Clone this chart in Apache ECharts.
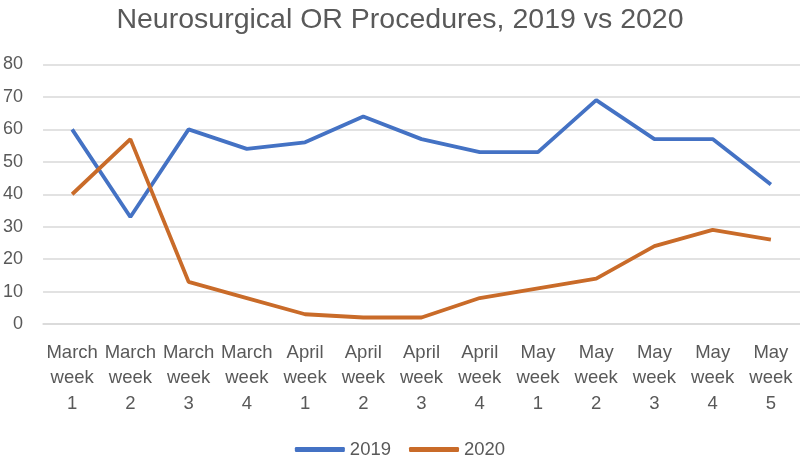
<!DOCTYPE html>
<html><head><meta charset="utf-8">
<script src="https://cdn.jsdelivr.net/npm/echarts@6/dist/echarts.min.js"></script>
<style>html,body{margin:0;padding:0;background:#fff}#c{width:800px;height:463px}</style>
</head><body><div id="c"></div>
<script>
const categories = ["March\nweek\n1","March\nweek\n2","March\nweek\n3","March\nweek\n4","April\nweek\n1","April\nweek\n2","April\nweek\n3","April\nweek\n4","May\nweek\n1","May\nweek\n2","May\nweek\n3","May\nweek\n4","May\nweek\n5"];
const values2019 = [60,33,60,54,56,64,57,53,53,69,57,57,43];
const values2020 = [40,57,13,8,3,2,2,8,11,14,24,29,26];
const seriesNames = ["2019","2020"];
const yTicks = {min:0, max:80, interval:10};

const font = "'Liberation Sans', Arial, sans-serif";
const txt = '#595959';
const chart = echarts.init(document.getElementById('c'), null, {renderer:'canvas'});
chart.setOption({
  animation:false,
  title:{text:'Neurosurgical OR Procedures, 2019 vs 2020', left:'center', top:1,
    textStyle:{fontFamily:font, fontSize:28.5, fontWeight:'normal', color:txt}},
  legend:{top:435, left:'center', itemWidth:50, itemHeight:5, itemGap:18,
    icon:'roundRect',
    textStyle:{fontFamily:font, fontSize:18.5, color:txt},
    data:seriesNames},
  grid:{left:41, top:64.5, width:764, bottom:139},
  xAxis:{type:'category', data:categories, boundaryGap:true,
    axisLine:{lineStyle:{color:'#d9d9d9', width:1.5}}, axisTick:{show:false},
    axisLabel:{fontFamily:font, fontSize:18.5, color:txt, lineHeight:25.5, margin:16, interval:0}},
  yAxis:{type:'value', min:yTicks.min, max:yTicks.max, interval:yTicks.interval,
    axisLine:{show:false}, axisTick:{show:false},
    splitLine:{lineStyle:{color:'#d9d9d9', width:1.5}},
    axisLabel:{fontFamily:font, fontSize:18, color:txt, margin:20}},
  series:[
    {name:seriesNames[0], type:'line', data:values2019, symbol:'none', lineStyle:{width:3.8, color:'#4472C4'}, itemStyle:{color:'#4472C4'}},
    {name:seriesNames[1], type:'line', data:values2020, symbol:'none', lineStyle:{width:3.8, color:'#C96B29'}, itemStyle:{color:'#C96B29'}}
  ]
});
</script></body></html>
